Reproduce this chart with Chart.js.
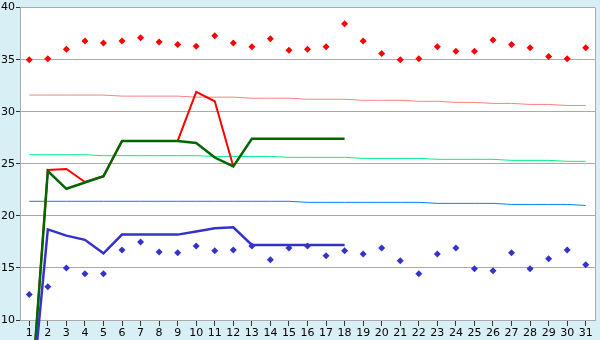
<!DOCTYPE html>
<html>
<head>
<meta charset="utf-8">
<script src="https://cdn.jsdelivr.net/npm/chart.js@4/dist/chart.umd.min.js"></script>
<style>
  html, body { margin: 0; padding: 0; background: #d9eff6; }
  #wrap { width: 600px; height: 340px; position: relative; }
</style>
</head>
<body>
<div id="wrap"><canvas id="c" width="600" height="340"></canvas></div>
<script>
// Categories (days of month)
const days = ['1','2','3','4','5','6','7','8','9','10','11','12','13','14','15','16','17','18','19','20','21','22','23','24','25','26','27','28','29','30','31'];
// Y tick range
const yTicks = { min: 10, max: 40, step: 5 };

// Daily maximum (red diamonds)
const maxPoints = [35.0,35.1,36.0,36.8,36.6,36.8,37.1,36.7,36.45,36.3,37.3,36.6,36.25,37.0,35.9,36.0,36.25,38.45,36.8,35.6,35.0,35.1,36.25,35.8,35.8,36.9,36.45,36.15,35.3,35.1,36.15];
// Daily minimum (blue diamonds)
const minPoints = [12.45,13.2,15.0,14.45,14.45,16.73,17.5,16.54,16.45,17.1,16.64,16.73,17.1,15.78,16.92,17.1,16.16,16.64,16.35,16.92,15.68,14.45,16.35,16.92,14.92,14.73,16.45,14.92,15.87,16.73,15.3];

// Lines
const redLine   = [0,24.4,24.5,23.25,23.8,27.2,27.2,27.2,27.2,31.9,31.0,24.75,null,null,null,null,null,null,null,null,null,null,null,null,null,null,null,null,null,null,null];
const greenLine = [0,24.3,22.6,23.2,23.8,27.2,27.2,27.2,27.2,27.0,25.6,24.75,27.4,27.4,27.4,27.4,27.4,27.4,null,null,null,null,null,null,null,null,null,null,null,null,null];
const blueLine  = [0,18.7,18.1,17.7,16.4,18.2,18.2,18.2,18.2,18.5,18.8,18.9,17.2,17.2,17.2,17.2,17.2,17.2,null,null,null,null,null,null,null,null,null,null,null,null,null];

// Normals (thin lines)
const pinkNormal  = [31.6,31.6,31.6,31.6,31.6,31.5,31.5,31.5,31.5,31.4,31.4,31.4,31.3,31.3,31.3,31.2,31.2,31.2,31.1,31.1,31.1,31.0,31.0,30.9,30.9,30.8,30.8,30.7,30.7,30.6,30.6];
const greenNormal = [25.87,25.87,25.87,25.87,25.78,25.78,25.78,25.78,25.78,25.78,25.71,25.71,25.71,25.71,25.62,25.62,25.62,25.62,25.52,25.52,25.52,25.52,25.43,25.43,25.43,25.43,25.33,25.33,25.33,25.24,25.24];
const blueNormal  = [21.4,21.4,21.4,21.4,21.4,21.4,21.4,21.4,21.4,21.4,21.4,21.4,21.4,21.4,21.4,21.3,21.3,21.3,21.3,21.3,21.3,21.3,21.2,21.2,21.2,21.2,21.1,21.1,21.1,21.1,21.0];

const FONT = { family: 'DejaVu Sans', size: 11 };

const bgPlugin = {
  id: 'bg',
  beforeDraw(chart) {
    const { ctx, chartArea: a } = chart;
    ctx.save();
    ctx.fillStyle = '#d9eff6';
    ctx.fillRect(0, 0, chart.width, chart.height);
    ctx.fillStyle = '#ffffff';
    ctx.fillRect(a.left, a.top, a.right - a.left, a.bottom - a.top);
    ctx.restore();
  },
  afterDatasetsDraw(chart) {
    const { ctx, chartArea: a } = chart;
    ctx.save();
    ctx.strokeStyle = '#aaaaaa';
    ctx.lineWidth = 1;
    ctx.beginPath();
    ctx.moveTo(Math.round(a.right) + 0.5, a.top);
    ctx.lineTo(Math.round(a.right) + 0.5, a.bottom);
    ctx.stroke();
    ctx.restore();
  }
};

function lineDs(data, color, width, order) {
  return { type: 'line', data, borderColor: color, backgroundColor: color, borderWidth: width,
           pointRadius: 0, pointHoverRadius: 0, fill: false, tension: 0, clip: false, spanGaps: false, order };
}
function pointDs(data, color, order) {
  return { type: 'line', data, showLine: false, borderColor: color, backgroundColor: color,
           pointStyle: 'rectRot', pointRadius: 3.5, pointBorderWidth: 0, order };
}

new Chart(document.getElementById('c'), {
  type: 'line',
  data: {
    labels: days,
    datasets: [
      pointDs(maxPoints, '#ff0000', 1),
      pointDs(minPoints, '#3333cc', 1),
      lineDs(blueLine, '#3333cc', 2.5, 2),
      lineDs(greenLine, '#006600', 2.5, 3),
      lineDs(redLine, '#ff0000', 2, 4),
      lineDs(pinkNormal, '#ff8080', 1, 5),
      lineDs(greenNormal, '#00f080', 1, 5),
      lineDs(blueNormal, '#0080ff', 1, 5)
    ]
  },
  options: {
    responsive: false,
    animation: false,
    events: [],
    layout: { padding: { top: 5, right: 5, left: 0, bottom: 0 } },
    plugins: { legend: { display: false }, tooltip: { enabled: false } },
    scales: {
      x: {
        offset: true,
        afterFit(s) { s.height = 20; },
        grid: { drawOnChartArea: false, drawTicks: true, tickLength: 6, color: '#333333', offset: false },
        border: { color: '#aaaaaa' },
        ticks: { color: '#000', font: FONT, padding: 1, maxRotation: 0, autoSkip: false }
      },
      y: {
        min: yTicks.min, max: yTicks.max,
        afterFit(s) { s.width = 20; },
        grid: { color: '#aaaaaa', tickLength: 4, tickColor: '#333333' },
        border: { color: '#aaaaaa' },
        ticks: { stepSize: yTicks.step, color: '#000', font: FONT, padding: 1 }
      }
    }
  },
  plugins: [bgPlugin]
});
</script>
</body>
</html>
